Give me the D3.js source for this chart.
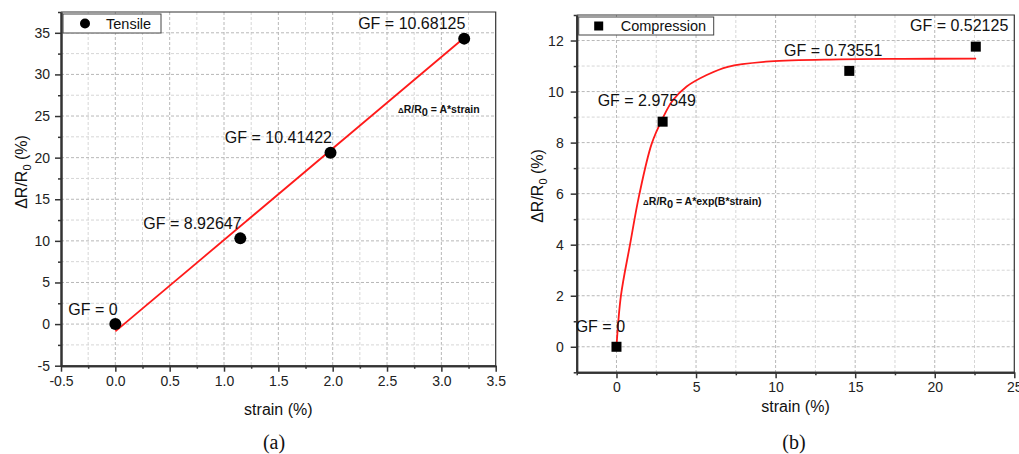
<!DOCTYPE html>
<html>
<head>
<meta charset="utf-8">
<script src="https://cdn.jsdelivr.net/npm/d3@7"></script>
<style>
  html, body { margin: 0; padding: 0; background: #fff; }
  svg { display: block; font-family: "Liberation Sans", Arial, sans-serif; }
</style>
</head>
<body>
<svg id="chart" width="1019" height="454"></svg>
<script>
// ---------------- data ----------------
const tensileStrain = [0, 1.15, 1.98, 3.21];
const tensileResp   = [0, 10.3, 20.6, 34.3];
const tensileGF     = ["GF = 0", "GF = 8.92647", "GF = 10.41422", "GF = 10.68125"];
const tensileFitStrain = [0, 3.21];
const tensileFitResp   = [-0.88, 34.4];
const tensileXTicks = [-0.5, 0, 0.5, 1, 1.5, 2, 2.5, 3, 3.5];
const tensileYTicks = [-5, 0, 5, 10, 15, 20, 25, 30, 35];

const compStrain = [0, 2.9, 14.63, 22.58];
const compResp   = [0, 8.82, 10.81, 11.76];
const compGF     = ["GF = 0", "GF = 2.97549", "GF = 0.73551", "GF = 0.52125"];
const compFitStrain = [0, 0.28, 0.85, 1.43, 2.21, 2.9, 3.53, 4.41, 5.67, 7.0, 9.65, 14, 18, 22.6];
const compFitResp   = [0, 2.0, 4.0, 5.95, 7.95, 8.95, 9.65, 10.2, 10.65, 10.97, 11.18, 11.26, 11.28, 11.29];
const compXTicks = [0, 5, 10, 15, 20, 25];
const compYTicks = [0, 2, 4, 6, 8, 10, 12];

const svg = d3.select("#chart");

function drawPanel(cfg) {
  const x = d3.scaleLinear().domain(cfg.xDomain).range([cfg.left, cfg.right]);
  const y = d3.scaleLinear().domain(cfg.yDomain).range([cfg.bottom, cfg.top]);
  const g = svg.append("g");

  // grid
  const xMinor = d3.range(cfg.xDomain[0], cfg.xDomain[1] + 1e-9, cfg.xMinorStep);
  const yMinor = d3.range(cfg.yDomain[0], cfg.yDomain[1] + 1e-9, cfg.yMinorStep);
  const isMajor = (v, arr) => arr.some(t => Math.abs(t - v) < 1e-6);
  g.append("g").selectAll("line").data(xMinor.filter(v => v > cfg.xDomain[0] + 1e-6 && v < cfg.xDomain[1] - 1e-6))
    .join("line")
    .attr("x1", d => x(d)).attr("x2", d => x(d))
    .attr("y1", cfg.top).attr("y2", cfg.bottom)
    .attr("stroke", d => isMajor(d, cfg.xTicks) ? "#b8b8b8" : "#d6d6d6")
    .attr("stroke-width", 1)
    .attr("stroke-dasharray", "3,2");
  g.append("g").selectAll("line").data(yMinor.filter(v => v > cfg.yDomain[0] + 1e-6 && v < cfg.yDomain[1] - 1e-6))
    .join("line")
    .attr("y1", d => y(d)).attr("y2", d => y(d))
    .attr("x1", cfg.left).attr("x2", cfg.right)
    .attr("stroke", d => isMajor(d, cfg.yTicks) ? "#b8b8b8" : "#d6d6d6")
    .attr("stroke-width", 1)
    .attr("stroke-dasharray", "3,2");

  // frame (top / right)
  g.append("path")
    .attr("d", `M${cfg.left},${cfg.top}H${cfg.right}V${cfg.bottom}`)
    .attr("fill", "none").attr("stroke", "#333").attr("stroke-width", 1.2);

  // axes
  const xAxis = g.append("g").attr("transform", `translate(0,${cfg.bottom})`)
    .call(d3.axisBottom(x).tickValues(cfg.xTicks).tickSize(6).tickSizeOuter(0).tickPadding(4).tickFormat(cfg.xFormat));
  const xAxisMinor = g.append("g").attr("transform", `translate(0,${cfg.bottom})`)
    .call(d3.axisBottom(x).tickValues(xMinor.filter(v => !isMajor(v, cfg.xTicks))).tickSize(3).tickSizeOuter(0).tickFormat(""));
  const yAxis = g.append("g").attr("transform", `translate(${cfg.left},0)`)
    .call(d3.axisLeft(y).tickValues(cfg.yTicks).tickSize(6).tickSizeOuter(0).tickPadding(cfg.yPad).tickFormat(d3.format("d")));
  const yAxisMinor = g.append("g").attr("transform", `translate(${cfg.left},0)`)
    .call(d3.axisLeft(y).tickValues(yMinor.filter(v => !isMajor(v, cfg.yTicks))).tickSize(3).tickSizeOuter(0).tickFormat(""));
  [xAxis, xAxisMinor, yAxis, yAxisMinor].forEach(a => {
    a.select(".domain").attr("stroke", "#333").attr("stroke-width", 2);
    a.selectAll(".tick line").attr("stroke", "#333").attr("stroke-width", 1.5);
    a.selectAll(".tick text").attr("fill", "#222").style("font-size", "14px")
      .style("font-family", '"Liberation Sans", Arial, sans-serif');
  });
  xAxis.selectAll(".tick text").text(d => cfg.xFormat(d).replace("\u2212", "-"));
  yAxis.selectAll(".tick text").text(d => String(d));

  // axis titles
  g.append("text")
    .attr("x", (cfg.left + cfg.right) / 2).attr("y", cfg.xTitleY)
    .attr("text-anchor", "middle").style("font-size", "16px").attr("fill", "#111")
    .text("strain (%)");
  const yt = g.append("text")
    .attr("transform", `translate(${cfg.yTitleX},${cfg.yTitleY}) rotate(-90)`)
    .attr("text-anchor", "middle").style("font-size", "16px").attr("fill", "#111");
  yt.append("tspan").text("\u0394R/R");
  yt.append("tspan").attr("dy", 4).style("font-size", "11px").text("0");
  yt.append("tspan").attr("dy", -4).text(" (%)");

  // fit curve
  const fit = cfg.fitX.map((v, i) => [v, cfg.fitY[i]]);
  g.append("path").datum(fit)
    .attr("d", d3.line().x(d => x(d[0])).y(d => y(d[1])).curve(d3.curveCatmullRom.alpha(0.5)))
    .attr("fill", "none").attr("stroke", "#ff1a1a").attr("stroke-width", 1.8);

  // points
  const pts = cfg.px.map((v, i) => [v, cfg.py[i]]);
  if (cfg.symbol === "circle") {
    g.append("g").selectAll("circle").data(pts).join("circle")
      .attr("cx", d => x(d[0])).attr("cy", d => y(d[1])).attr("r", 6).attr("fill", "#000");
  } else {
    g.append("g").selectAll("rect").data(pts).join("rect")
      .attr("x", d => x(d[0]) - 5).attr("y", d => y(d[1]) - 5)
      .attr("width", 10).attr("height", 10).attr("fill", "#000");
  }

  // GF labels
  g.append("g").selectAll("text").data(pts).join("text")
    .attr("x", (d, i) => x(d[0]) + cfg.labelOff[i][0])
    .attr("y", (d, i) => y(d[1]) + cfg.labelOff[i][1])
    .attr("text-anchor", (d, i) => cfg.labelOff[i][2] || "start")
    .style("font-size", "16px").attr("fill", "#111")
    .text((d, i) => cfg.labels[i]);

  // equation
  const eq = g.append("text")
    .attr("x", x(cfg.eqPos[0])).attr("y", y(cfg.eqPos[1]))
    .style("font-size", "10.5px").style("font-weight", "bold").attr("fill", "#111");
  eq.append("tspan").style("font-size", "8px").text("\u0394");
  eq.append("tspan").text("R/R");
  eq.append("tspan").attr("dy", 3).style("font-size", "11px").text("0");
  eq.append("tspan").attr("dy", -3).text(cfg.eqText);

  // legend
  const lg = g.append("g").attr("transform", `translate(${cfg.left + 2},${cfg.top + 2})`);
  lg.append("rect").attr("width", cfg.legendW).attr("height", cfg.legendH)
    .attr("fill", "#fff").attr("stroke", "#444").attr("stroke-width", 1);
  if (cfg.symbol === "circle") {
    lg.append("circle").attr("cx", 22).attr("cy", cfg.legendH / 2).attr("r", 5).attr("fill", "#000");
  } else {
    lg.append("rect").attr("x", 15.5).attr("y", cfg.legendH / 2 - 4.5).attr("width", 9).attr("height", 9).attr("fill", "#000");
  }
  lg.append("text").attr("x", cfg.legendTextX).attr("y", cfg.legendH / 2 + 5)
    .style("font-size", "14.5px").attr("fill", "#111").text(cfg.legendLabel);

  // panel caption
  svg.append("text")
    .attr("x", cfg.captionX).attr("y", 449)
    .attr("text-anchor", "middle")
    .style("font-family", '"Liberation Serif", "DejaVu Serif", serif')
    .style("font-size", "20px").attr("fill", "#111")
    .text(cfg.caption);
}

drawPanel({
  left: 61, right: 495.7, top: 12, bottom: 365.7,
  xDomain: [-0.5, 3.5], yDomain: [-5, 37.5],
  xTicks: tensileXTicks, yTicks: tensileYTicks,
  xMinorStep: 0.25, yMinorStep: 2.5,
  xFormat: d3.format(".1f"), yPad: 5,
  xTitleY: 415, yTitleX: 27, yTitleY: 172,
  fitX: tensileFitStrain, fitY: tensileFitResp,
  px: tensileStrain, py: tensileResp, symbol: "circle",
  labels: tensileGF,
  labelOff: [[-47, -9], [-97, -9.4], [1.5, -9.7, "end"], [-106, -9.6]],
  eqPos: [2.6, 25.37], eqText: " = A*strain",
  legendW: 98, legendH: 19, legendTextX: 43, legendLabel: "Tensile",
  caption: "(a)", captionX: 274
});

drawPanel({
  left: 576.7, right: 1014.3, top: 15, bottom: 372.3,
  xDomain: [-2.5, 25], yDomain: [-1, 13],
  xTicks: compXTicks, yTicks: compYTicks,
  xMinorStep: 2.5, yMinorStep: 1,
  xFormat: d3.format("d"), yPad: 7,
  xTitleY: 412, yTitleX: 543, yTitleY: 186,
  fitX: compFitStrain, fitY: compFitResp,
  px: compStrain, py: compResp, symbol: "square",
  labels: compGF,
  labelOff: [[-40.8, -14.8], [-65, -15.7], [-65.3, -15], [-65.8, -15.7]],
  eqPos: [1.67, 5.56], eqText: " = A*exp(B*strain)",
  legendW: 135, legendH: 18, legendTextX: 42, legendLabel: "Compression",
  caption: "(b)", captionX: 794
});
</script>
</body>
</html>
